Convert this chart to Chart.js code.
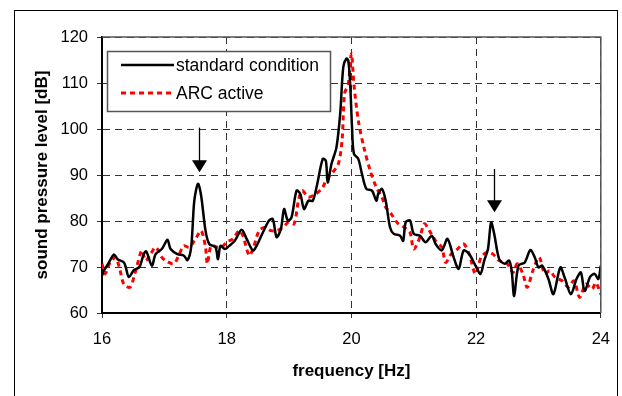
<!DOCTYPE html>
<html>
<head>
<meta charset="utf-8">
<script src="https://cdn.jsdelivr.net/npm/chart.js@4"></script>
<style>
  html, body { margin: 0; padding: 0; background: #fff; }
  #wrap { width: 622px; height: 396px; }
</style>
</head>
<body>
<div id="wrap"><canvas id="chart" width="622" height="396"></canvas></div>
<script>
// standard condition (black, solid)
const stdFreq = [16.0, 16.03, 16.1, 16.19, 16.25, 16.35, 16.38, 16.43, 16.51, 16.6, 16.67, 16.71, 16.8, 16.86, 16.96,
  17.05, 17.1, 17.21, 17.31, 17.37, 17.43, 17.48, 17.54, 17.59, 17.66, 17.72, 17.82, 17.86, 17.9, 17.97,
  18.04, 18.13, 18.24, 18.32, 18.42, 18.48, 18.58, 18.68, 18.74, 18.8, 18.87, 18.92, 18.98, 19.04, 19.12,
  19.18, 19.24, 19.31, 19.38, 19.44, 19.54, 19.59, 19.62, 19.68, 19.76, 19.82, 19.87, 19.92, 19.95, 19.98,
  20.01, 20.04, 20.11, 20.17, 20.24, 20.33, 20.4, 20.43, 20.49, 20.55, 20.62, 20.68, 20.78, 20.83, 20.87,
  20.94, 21.0, 21.1, 21.19, 21.29, 21.35, 21.45, 21.54, 21.64, 21.72, 21.8, 21.89, 21.99, 22.07, 22.13,
  22.19, 22.24, 22.29, 22.37, 22.46, 22.53, 22.57, 22.61, 22.68, 22.78, 22.87, 22.94, 23.0, 23.06, 23.16,
  23.24, 23.35, 23.42, 23.52, 23.61, 23.68, 23.74, 23.83, 23.9, 23.96, 24.0]
const stdLevel = [68.1, 69.2, 70.7, 72.7, 71.7, 71.0, 70.0, 67.8, 69.3, 70.0, 72.8, 73.4, 70.3, 72.8, 73.9,
  75.9, 73.9, 72.8, 72.5, 71.5, 74.3, 84.4, 88.1, 85.5, 77.9, 75.0, 74.3, 71.7, 74.6, 73.9,
  74.6, 75.7, 78.1, 76.1, 73.6, 74.6, 77.5, 80.1, 80.4, 76.5, 78.3, 82.6, 80.1, 80.8, 86.6,
  85.9, 82.6, 84.4, 84.4, 87.3, 93.5, 93.1, 88.4, 92.4, 96.0, 103.3, 113.5, 115.3, 114.9, 109.8,
  100.4, 94.6, 93.5, 90.2, 87.0, 86.6, 84.4, 85.9, 87.0, 84.4, 78.6, 77.2, 76.8, 75.7, 79.7,
  80.1, 77.2, 76.8, 75.4, 76.8, 75.0, 73.6, 76.1, 72.1, 69.6, 73.6, 72.8, 70.3, 68.5, 71.4,
  73.9, 79.7, 77.2, 71.7, 70.7, 71.4, 69.2, 63.7, 70.3, 71.0, 73.7, 72.1, 69.9, 70.3, 67.4,
  64.1, 69.9, 67.7, 64.1, 67.4, 68.8, 64.8, 67.9, 68.5, 67.4, 70.3]

// ARC active (red, dashed)
const arcFreq = [16.0, 16.05, 16.13, 16.22, 16.29, 16.35, 16.45, 16.54, 16.64, 16.7, 16.78, 16.86, 16.96, 17.02,
  17.15, 17.24, 17.31, 17.4, 17.5, 17.59, 17.66, 17.69, 17.75, 17.85, 17.92, 18.0, 18.1, 18.2, 18.26,
  18.36, 18.42, 18.52, 18.61, 18.71, 18.8, 18.9, 18.99, 19.08, 19.15, 19.21, 19.31, 19.43, 19.54, 19.6,
  19.7, 19.79, 19.85, 19.89, 19.95, 20.0, 20.04, 20.11, 20.2, 20.3, 20.4, 20.49, 20.55, 20.64, 20.75,
  20.85, 20.94, 21.0, 21.1, 21.17, 21.25, 21.35, 21.45, 21.51, 21.6, 21.7, 21.8, 21.89, 21.99, 22.08,
  22.18, 22.27, 22.37, 22.5, 22.59, 22.66, 22.75, 22.82, 22.91, 23.01, 23.1, 23.18, 23.27, 23.38, 23.48,
  23.57, 23.66, 23.76, 23.86, 23.92, 24.0]
const arcLevel = [70.7, 68.5, 71.0, 72.1, 69.2, 66.3, 65.6, 69.2, 73.6, 71.4, 72.8, 74.3, 72.1, 71.4,
  70.7, 72.8, 74.6, 74.3, 76.1, 77.9, 74.3, 70.7, 74.6, 74.3, 74.3, 75.4, 76.1, 77.9, 76.8,
  72.5, 73.9, 77.9, 78.6, 77.9, 77.9, 78.6, 79.7, 79.4, 84.4, 86.6, 85.2, 85.9, 87.3, 89.1,
  90.6, 92.4, 97.5, 107.7, 109.8, 116.4, 109.8, 101.9, 96.0, 91.0, 87.3, 85.2, 83.0, 81.5, 79.4,
  78.6, 77.5, 73.9, 76.5, 79.4, 77.9, 75.7, 74.3, 71.0, 72.8, 73.9, 75.0, 72.8, 68.5, 72.1,
  73.2, 72.8, 71.4, 70.7, 68.8, 70.7, 68.5, 65.6, 69.2, 72.1, 68.5, 69.2, 67.7, 67.0, 65.6,
  67.0, 63.4, 66.3, 65.2, 66.6, 64.1]

// arrows marking the side peaks
const arrowFreq = [17.55, 22.29]
const arrowTop = [100.3, 91.3]
const arrowTip = [90.6, 81.9]

const FONT = 'Arial, "Liberation Sans", sans-serif'

const toPoints = (xs, ys) => xs.map((v, i) => ({ x: v, y: ys[i] }))

const frameAndMarks = {
  id: 'frameAndMarks',
  afterDraw(chart) {
    const { ctx, chartArea: a, scales: { x, y } } = chart
    ctx.save()
    // outer frame
    ctx.strokeStyle = '#000'
    ctx.lineWidth = 1
    ctx.strokeRect(14.5, 10.5, 603, 420)
    // top / right plot border
    ctx.strokeStyle = '#555'
    ctx.lineWidth = 1.5
    ctx.beginPath()
    ctx.moveTo(a.left, a.top)
    ctx.lineTo(a.right, a.top)
    ctx.lineTo(a.right, a.bottom)
    ctx.stroke()

    // arrows
    ctx.strokeStyle = '#000'
    ctx.fillStyle = '#000'
    ctx.lineWidth = 1.3
    arrowFreq.forEach((f, i) => {
      const px = Math.round(x.getPixelForValue(f)) + 0.5
      const y0 = y.getPixelForValue(arrowTop[i])
      const y1 = y.getPixelForValue(arrowTip[i])
      ctx.beginPath()
      ctx.moveTo(px, y0)
      ctx.lineTo(px, y1 - 11)
      ctx.stroke()
      ctx.beginPath()
      ctx.moveTo(px - 7.5, y1 - 12)
      ctx.lineTo(px + 7.5, y1 - 12)
      ctx.lineTo(px, y1)
      ctx.closePath()
      ctx.fill()
    })

    // legend box
    ctx.fillStyle = '#fff'
    ctx.fillRect(107.5, 51.5, 223, 60)
    ctx.strokeStyle = '#555'
    ctx.lineWidth = 1.5
    ctx.strokeRect(107.5, 51.5, 223, 60)
    ctx.font = '17.5px ' + FONT
    ctx.textBaseline = 'middle'
    ctx.textAlign = 'left'
    chart.data.datasets.forEach((ds, i) => {
      const ly = 65 + i * 28
      ctx.strokeStyle = ds.borderColor
      ctx.lineWidth = ds.borderWidth
      ctx.setLineDash(ds.borderDash || [])
      ctx.beginPath()
      ctx.moveTo(121, ly)
      ctx.lineTo(174, ly)
      ctx.stroke()
      ctx.setLineDash([])
      ctx.fillStyle = '#000'
      ctx.fillText(ds.label, 176, ly + 1)
    })
    ctx.restore()
  }
}

new Chart(document.getElementById('chart'), {
  type: 'scatter',
  data: {
    datasets: [
      {
        label: 'standard condition',
        data: toPoints(stdFreq, stdLevel),
        showLine: true,
        borderColor: '#000',
        borderWidth: 2.5,
        pointRadius: 0,
        tension: 0.3
      },
      {
        label: 'ARC active',
        data: toPoints(arcFreq, arcLevel),
        showLine: true,
        borderColor: '#ff0000',
        borderWidth: 3,
        borderDash: [5, 4],
        pointRadius: 0,
        tension: 0.3
      }
    ]
  },
  options: {
    responsive: false,
    animation: false,
    layout: { padding: { left: 0, top: 37, right: 21, bottom: 0 } },
    plugins: { legend: { display: false }, tooltip: { enabled: false } },
    scales: {
      x: {
        type: 'linear',
        min: 16,
        max: 24,
        afterFit: s => { s.height = 83 },
        ticks: { stepSize: 2, color: '#000', font: { family: FONT, size: 16.5 }, padding: 12 },
        grid: { color: '#333', lineWidth: 1, tickLength: 5, tickColor: '#333' },
        border: { color: '#000', width: 2, dash: [7, 5] },
        title: { display: true, text: 'frequency [Hz]', color: '#000', font: { family: FONT, size: 17, weight: 'bold' }, padding: { top: 0, bottom: 14 } }
      },
      y: {
        min: 60,
        max: 120,
        afterFit: s => { s.width = 102 },
        ticks: { stepSize: 10, color: '#000', font: { family: FONT, size: 16.5 }, padding: 9 },
        grid: { color: '#333', lineWidth: 1, tickLength: 5, tickColor: '#333' },
        border: { color: '#000', width: 2, dash: [7, 5] },
        title: { display: true, text: 'sound pressure level [dB]', color: '#000', font: { family: FONT, size: 17, weight: 'bold' }, padding: { top: 32, bottom: 0 } }
      }
    }
  },
  plugins: [frameAndMarks]
})
</script>
</body>
</html>
